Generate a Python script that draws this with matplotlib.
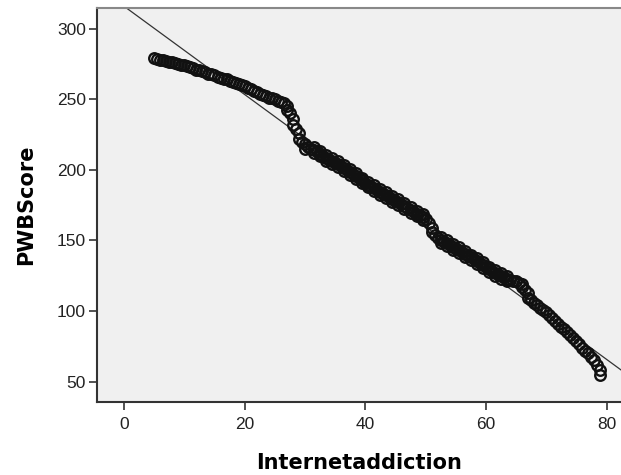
import numpy as np
from matplotlib import pyplot as plt

plt.rcParams['font.family'] = ['Liberation Sans', 'DejaVu Sans']

# Internet addiction score vs PWB score
internet = [5, 5.5, 6, 6.5, 7, 7.5, 8, 8.5, 9, 9.5, 10, 10.5, 11, 11.5, 12, 12.5,
            13, 13.5, 14, 14.5, 15, 15.5, 16, 16.5, 17, 17.5, 18, 18.5, 19, 19.5,
            20, 20.5, 21, 21.5, 22, 22.5, 23, 23.5, 24, 24.5, 25, 25.5, 26, 26.5,
            27, 27, 27.5, 28, 28, 28.5, 29, 29, 29.5, 30, 30, 30.5, 31, 31.5,
            32, 32.5, 33, 33.5, 34, 34.5, 35, 35.5, 36, 36.5, 37, 37.5, 38, 38.5,
            39, 39.5, 40, 40.5, 41, 41.5, 42, 42.5, 43, 43.5, 44, 44.5, 45, 45.5,
            46, 46.5, 47, 47.5, 48, 48.5, 49, 49.5, 50, 50.5, 51, 51, 51.5, 52,
            52.5, 53, 53.5, 54, 54.5, 55, 55.5, 56, 56.5, 57, 57.5, 58, 58.5, 59,
            59.5, 60, 60.5, 61, 61.5, 62, 62.5, 63, 63.5, 64, 64.5, 65, 65.5, 66,
            66, 66.5, 67, 67, 67.5, 68, 68.5, 69, 69.5, 70, 70.5, 71, 71.5, 72,
            72.5, 73, 73.5, 74, 74.5, 75, 75.5, 76, 76.5, 77, 77.5, 78, 78.5, 79, 79]
pwb = [279, 278.5, 278, 277.5, 277, 276.5, 276, 275.5, 275, 274.5, 274, 273.5, 273, 272, 271, 270.5,
       270, 269, 268, 267.5, 267, 266, 265, 264.5, 264, 263, 262, 261.5, 261, 260,
       259, 258, 257, 256, 255, 254, 253, 252, 251, 250.5, 250, 249, 248, 247,
       245, 242, 240, 236, 232, 229, 226, 222, 220, 218, 215, 216, 215, 214,
       213, 211.5, 210, 208.5, 207, 206, 205, 204, 203, 201.5, 200, 198.5, 197, 195.5,
       194, 192.5, 191, 189.5, 188, 187, 186, 184.5, 183, 182, 181, 179.5, 178, 177,
       176, 174.5, 173, 171.5, 170, 169, 168, 166.5, 165, 162, 159, 156, 154, 152,
       150.5, 149, 148, 147, 145.5, 144, 143, 142, 140.5, 139, 138, 137, 135.5, 134,
       132.5, 131, 129.5, 128, 127, 126, 125, 124, 123, 122, 121.5, 121, 120, 119,
       117, 115, 113, 109, 108, 106, 104, 102, 100.5, 99, 97, 95, 93, 91,
       89, 87, 85, 83, 81, 79, 76.5, 74, 72, 70, 67.5, 65, 61.5, 58, 55]

# extra cases in the thick middle part of the cloud
band_x = [31.5, 32.5, 33.5, 34.5, 35.5, 36.5, 37.5, 38.5, 39.5, 40.5, 41.5, 42.5,
          43.5, 44.5, 45.5, 46.5, 47.5, 48.5, 49.5,
          52.5, 53.5, 54.5, 55.5, 56.5, 57.5, 58.5, 59.5, 60.5, 61.5, 62.5, 63.5]
band_hi = [216, 213.5, 210.5, 208, 206, 203.5, 200.5, 197.5, 194.5, 191.5, 189, 186.5,
           184, 181.5, 179, 176.5, 173.5, 171, 168.5,
           152.5, 150, 147.5, 145, 142.5, 140, 137.5, 134.5, 131.5, 129, 127, 125]
band_lo = [212, 209.5, 206.5, 204, 202, 199.5, 196.5, 193.5, 190.5, 187.5, 185, 182.5,
           180, 177.5, 175, 172.5, 169.5, 167, 164.5,
           148.5, 146, 143.5, 141, 138.5, 136, 133.5, 130.5, 127.5, 125, 123, 121]

# fit line: intercept and slope
fit_b0 = 315.8
fit_b1 = -3.125

xticks = [0, 20, 40, 60, 80]
yticks = [50, 100, 150, 200, 250, 300]

fig = plt.figure(figsize=(6.21, 4.75), dpi=100)
ax = fig.add_axes([0.156, 0.1537, 0.844, 0.829])
ax.set_facecolor('#F0F0F0')

xlim = (-4.5, 82.4)
ax.set_xlim(xlim)
ax.set_ylim(35.6, 314.4)

xl = np.array(xlim)
ax.plot(xl, fit_b0 + fit_b1 * xl, color='#333333', lw=0.9, zorder=2)

mk = dict(ls='none', marker='o', mfc='none', mec='#111111', ms=7.6, mew=1.7, zorder=3)
ax.plot(internet, pwb, **mk)
ax.plot(band_x, band_hi, **mk)
ax.plot(band_x, band_lo, **mk)

ax.set_xticks(xticks)
ax.set_yticks(yticks)
ax.tick_params(direction='out', length=6, width=1.2, color='#333333',
               labelsize=12.5, labelcolor='#222222')
ax.tick_params(axis='y', pad=2)
ax.tick_params(axis='x', pad=5)

for s in ['left', 'bottom']:
    ax.spines[s].set_color('#333333')
    ax.spines[s].set_linewidth(1.5)
ax.spines['top'].set_color('#888888')
ax.spines['top'].set_linewidth(1.5)
ax.spines['right'].set_visible(False)

ax.set_xlabel('Internetaddiction', fontsize=15, fontweight='bold',
              family='DejaVu Sans', labelpad=15)
ax.set_ylabel('PWBScore', fontsize=15, fontweight='bold',
              family='DejaVu Sans', labelpad=15)

plt.savefig('out.png', format='png')
